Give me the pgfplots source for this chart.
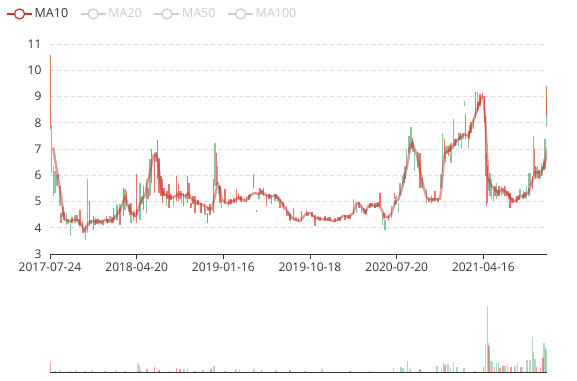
\documentclass[border=0pt]{standalone}
\usepackage{pgfplots}
\pgfplotsset{compat=1.18}
\usepackage{pgfplotstable}
\usepackage{fontspec}
\setmainfont{Open Sans}
\definecolor{mared}{HTML}{C23531}
\definecolor{candred}{HTML}{E0493D}
\definecolor{candgreen}{HTML}{3F9A62}
\definecolor{txt}{HTML}{333333}
\definecolor{gridc}{HTML}{DDDDDD}
\definecolor{legoff}{HTML}{CCCCCC}

\pgfplotstableread{
x lo hi
0.8 7.75 10.58
8.3 5.84 6.03
11 4.19 4.57
14 4.30 4.60
22 4.20 4.40
27 4.25 4.50
30 4.06 4.69
32.3 3.80 4.25
39.3 4.06 5.01
43.3 3.93 4.44
45.7 4.12 4.38
47 4.15 4.35
50 4.19 4.31
56.7 4.25 4.44
58 4.20 4.35
62 4.20 4.40
63.3 4.19 4.76
67.7 4.31 4.82
70 4.12 4.76
73.3 4.44 5.52
76.7 4.82 5.40
80 4.50 4.90
84 4.40 4.60
86.7 4.19 6.03
93.3 4.69 5.59
98 5.10 5.50
101.7 5.71 6.99
104.3 5.33 6.86
107.3 5.84 7.33
109 5.33 6.67
111 5.20 5.97
112.3 4.95 5.84
114 5.20 5.50
117 5.10 5.40
119 4.76 5.65
121 5.05 5.30
126.7 5.01 5.97
128.3 5.01 5.71
130 5.10 5.40
133.3 4.82 5.33
137.3 4.95 5.97
139 5.08 5.71
141 4.76 4.95
143 4.90 5.20
145 4.57 5.20
148 4.85 5.05
151 4.57 4.95
154.3 4.63 4.89
157.3 4.19 4.57
160 4.50 4.89
163.3 4.57 5.84
166.3 5.59 6.86
170 4.95 5.59
175 4.95 5.46
178.3 4.82 5.08
181 4.90 5.10
184 4.95 5.15
186.7 4.95 5.46
188.3 5.08 5.33
191 5.00 5.20
194.3 5.01 5.14
199 5.05 5.25
203.3 5.52 6.03
206.7 4.60 4.66
210 5.30 5.50
213.3 5.20 5.52
216.7 4.82 5.27
219 5.10 5.30
221.7 4.89 5.20
226 5.10 5.30
230 4.76 5.08
233 4.80 5.00
236.7 4.44 4.82
240 4.30 4.50
243.3 4.31 4.76
248.3 4.21 4.38
251.7 4.25 4.63
256.7 4.44 4.69
262 4.40 4.60
265 4.06 4.50
270 4.25 4.40
275 4.25 4.44
280 4.25 4.40
285 4.21 4.38
290 4.25 4.40
295 4.31 4.50
300 4.35 4.50
309 4.75 5.00
316 4.50 4.70
320 4.76 4.95
325 4.76 4.95
328 4.80 5.00
330 4.82 5.33
334 4.35 4.55
338.3 4.25 4.50
344.3 5.08 5.33
362.3 6.99 7.43
370 5.52 6.86
379 5.00 5.15
381.7 4.95 5.20
385 5.01 5.40
388 5.00 5.15
394.3 6.61 7.37
398.3 6.73 7.11
400 6.90 7.15
405 7.11 7.37
410 7.35 7.60
415.7 7.37 8.32
419 7.40 7.70
421 7.62 8.01
423.3 7.75 8.13
425.7 8.20 9.18
428 8.50 8.80
430 8.64 9.09
432.3 8.96 9.15
434.3 8.01 9.03
435.7 5.97 8.26
436.7 4.82 6.86
437.7 4.95 6.35
445 5.20 5.59
448 5.20 5.45
449 5.20 5.59
454.3 5.20 5.59
457 5.20 5.40
458.3 5.08 5.40
460 4.76 5.33
462 4.95 5.15
466.7 4.95 5.20
469 5.05 5.25
473.3 5.14 5.40
475 5.15 5.35
482.3 5.46 5.97
484.3 6.10 6.99
485.7 5.84 6.35
489 5.90 6.20
494 6.20 6.50
496.3 8.26 9.41
}\redcandles

\pgfplotstableread{
x lo hi
1.7 6.10 7.90
3.3 5.20 6.35
5 5.33 6.16
7 5.60 6.00
10 4.82 5.59
13 4.40 4.80
16.7 4.12 4.57
18 4.15 4.35
20.7 3.67 4.31
25 4.19 4.50
29 4.10 4.35
34 3.80 4.00
35.7 3.55 4.12
37.7 3.80 5.84
41 4.15 4.30
45 4.10 4.30
48.3 4.12 4.38
52 4.10 4.30
53.3 4.06 4.31
57 4.20 4.35
60 4.25 4.44
64 4.30 4.50
66.7 4.25 4.89
70 4.60 4.90
75 4.69 5.46
79 4.60 4.85
81 4.19 4.95
83.3 4.25 4.69
87 4.50 4.70
90 4.31 5.71
92 4.90 5.20
96.7 4.57 5.84
100 5.20 6.61
106 6.50 6.90
113 5.20 5.40
116.7 4.82 5.33
120 5.05 5.25
123.3 4.82 5.20
127 5.15 5.35
131.7 4.95 5.40
136 5.10 5.30
147 4.85 5.00
151.7 4.57 4.82
155 4.50 4.76
158 4.65 4.80
165 5.59 7.24
167.7 5.65 6.35
169 5.30 5.60
171.7 4.76 5.08
180 4.90 5.05
190 5.05 5.20
196.7 4.95 5.20
200 5.15 5.30
209 5.08 5.33
212 5.25 5.45
220 5.10 5.30
225 5.01 5.27
228 5.00 5.20
233.3 4.69 4.95
238 4.45 4.65
240 4.25 4.57
246 4.25 4.40
258 4.45 4.60
268 4.30 4.45
278 4.25 4.40
288 4.25 4.40
298 4.35 4.50
303.3 4.50 5.08
306.7 4.57 4.95
311.7 4.57 4.82
314 4.55 4.75
322 4.80 4.95
327 4.80 4.95
332.3 4.12 4.57
335 3.93 4.31
341.7 4.38 4.82
345 4.85 5.05
346 4.89 5.20
348.3 4.57 4.95
350 5.20 5.71
352.3 5.59 5.97
354 5.70 6.10
355 5.84 6.35
356.7 6.22 6.99
359 6.86 7.50
361 6.99 7.82
363 6.90 7.30
364.3 6.16 6.99
368 6.30 6.90
372 5.50 5.90
376.7 4.95 5.46
383 5.00 5.15
391 5.52 6.03
392.3 6.10 7.62
395.7 6.48 7.11
397 6.80 7.10
401 6.48 7.24
403.3 6.99 8.13
406 7.15 7.40
408.3 7.11 7.62
411.7 6.99 7.50
413 7.40 7.60
414.3 8.64 8.83
418.3 6.99 7.62
420 7.60 7.90
427.7 8.39 9.18
430 8.70 9.00
439 5.40 5.90
440 5.20 6.10
441.7 5.08 5.84
443.3 5.01 5.46
446.7 5.08 5.71
451.7 5.20 5.59
453 5.30 5.50
455.7 5.20 5.59
460 5.10 5.30
463.3 4.95 5.14
467 5.00 5.20
470 5.20 5.46
473 5.10 5.30
476.7 5.08 5.59
478.3 5.33 6.10
479 5.20 5.50
480 5.59 6.10
483.7 5.97 7.50
486 5.90 6.30
487.7 5.84 6.35
490 5.84 6.10
491.7 5.97 6.48
492 6.00 6.30
493.3 6.22 6.61
495 6.22 7.37
497 7.82 8.90
}\greencandles

\pgfplotstableread{
x ma
3.3 7.05
5 6.61
8.3 5.84
11.7 5.08
13.3 4.57
15 4.31
18.3 4.25
25 4.31
28.3 4.25
31.7 4.12
35 3.87
38.3 4.18
41.7 4.25
48.3 4.25
51.7 4.18
55 4.31
58.3 4.25
61.7 4.25
65 4.38
68.3 4.57
71.7 4.82
75 5.20
78.3 4.82
81.7 4.57
85 4.44
88.3 4.69
91.7 5.08
95 5.20
96.7 5.59
100 6.10
103.3 6.73
105.7 6.80
108.3 6.48
110 5.84
112.3 5.33
115 5.27
118.3 5.20
121.7 5.14
125 5.20
128.3 5.27
131.7 5.27
135 5.20
138.3 5.33
141.7 5.08
145 5.01
148.3 4.95
151.7 4.89
155 4.82
158.3 4.76
161.7 4.69
163.3 4.95
165.7 5.33
167.7 5.71
170 5.52
171.7 5.08
175 4.95
178.3 4.92
181.7 5.01
185 5.04
188.3 5.14
191.7 5.10
195 5.01
198.3 5.14
201.7 5.27
205 5.33
208.3 5.27
211.7 5.39
215 5.27
218.3 5.20
221.7 5.20
225 5.23
228.3 5.14
231.7 4.95
235 4.76
238.3 4.57
241.7 4.38
245 4.31
250 4.25
255 4.50
260 4.57
265 4.38
271.7 4.34
278.3 4.31
283.3 4.25
288.3 4.31
293.3 4.46
298.3 4.41
303.3 4.57
306.7 4.95
310 4.89
315 4.57
318.3 4.82
321.7 4.89
325 4.82
328.3 4.89
331.7 4.69
335 4.44
338.3 4.38
341.7 4.57
345 4.95
348.3 5.08
351.7 5.46
355 5.97
358.3 6.61
360 7.05
361.7 7.24
363.3 7.11
366.7 6.80
370 6.16
373.3 5.59
376.7 5.14
380 5.08
385 5.08
390 5.10
391.7 5.59
393.3 6.35
395 6.86
398.3 6.92
401.7 7.05
405 7.24
408.3 7.37
411.7 7.50
415 7.56
418.3 7.50
421.7 7.88
425 8.26
428.3 8.64
431.7 9.00
433.3 8.96
435 8.26
436.7 7.11
438.3 5.84
441.7 5.59
445 5.46
448.3 5.33
451.7 5.46
455 5.39
458.3 5.27
461.7 5.08
465 5.01
468.3 5.14
471.7 5.20
475 5.23
478.3 5.33
481.7 5.71
485 6.10
488.3 6.10
491.7 6.16
495 6.48
497.7 7.05
}\maten

\pgfplotstableread{
x v
0.7 9
10 1.5
26 1.2
42 1.5
66 1.2
90.6 2.3
97 3.3
104.5 5
109 2.3
126.5 4.7
130 3.3
161 3.3
211.6 2.3
240 2.3
300 1.2
370 3.3
395 7.3
433.6 5.7
439 26.3
444.5 5
450 4
453 6.3
461 5
470.3 5
486.7 5
490.4 4
493 14
495.2 24
}\redvol

\pgfplotstableread{
x v
5 1.2
20 1.5
35 1.2
55 1.5
75 1.2
87.7 9
88.8 7
120 1.5
134 3
137.5 4
145 1.5
153 2.3
164 6.3
175 1.5
186 3
189.6 3
204 3
226 2.3
255 1.2
272 3.3
320 1.2
343.7 4
351 5
352.9 4
357.3 11.3
360 3
387 6.3
391.4 3
393.2 9.3
398 8.3
400.5 4.3
403.5 10
407 5
414 4.3
425 1.5
435.4 28.3
437.2 66.3
438.3 29
441 11.3
442.7 10
446.4 9.3
448.2 10
454.8 6.3
457.4 7.3
464.8 6.3
467.7 9
472 5.7
476.8 12.3
479.4 12.3
480.5 12.3
482.4 35.7
483 20.3
485 13
494 29
496.3 22
}\greenvol

\begin{document}
\begin{tikzpicture}
\path[use as bounding box] (0pt,0pt) rectangle (577pt,-380pt);

\begin{axis}[
  at={(50pt,-254pt)}, anchor=south west,
  width=497pt, height=210pt, scale only axis,
  xmin=0, xmax=497, ymin=3, ymax=11,
  axis lines*=left,
  x axis line style={draw=txt, line width=1pt},
  y axis line style={draw=none},
  ytick={3,...,11},
  ytick style={draw=none},
  xtick={0,86.7,173.3,260,346.7,433.3},
  xticklabels={2017-07-24,2018-04-20,2019-01-16,2019-10-18,2020-07-20,2021-04-16},
  xtick style={draw=txt, line width=1pt},
  tick align=outside, major tick length=5pt,
  ymajorgrids,
  grid style={draw=gridc, line width=0.8pt, dash pattern=on 4pt off 3pt},
  tick label style={font=\fontsize{12}{14}\selectfont, text=txt},
  /pgf/number format/assume math mode=true,
  clip=true,
  legend style={at={(axis description cs:-0.088,1.143)}, anchor=west,
    draw=none, fill=none, inner sep=0pt,
    nodes={font=\fontsize{12.5}{15}\selectfont},
    /tikz/every even column/.append style={column sep=10pt}},
  legend columns=-1,
]
\addlegendimage{color=mared, legend image code/.code={\draw[line width=1.2pt] (0pt,0pt) -- (25pt,0pt); \draw[line width=1.2pt, fill=white] (12.5pt,0pt) circle (5pt);}}
\addlegendentry{\textcolor{txt}{MA10}}
\addlegendimage{color=legoff, legend image code/.code={\draw[line width=1.2pt] (0pt,0pt) -- (25pt,0pt); \draw[line width=1.2pt, fill=white] (12.5pt,0pt) circle (5pt);}}
\addlegendentry{\textcolor{legoff}{MA20}}
\addlegendimage{color=legoff, legend image code/.code={\draw[line width=1.2pt] (0pt,0pt) -- (25pt,0pt); \draw[line width=1.2pt, fill=white] (12.5pt,0pt) circle (5pt);}}
\addlegendentry{\textcolor{legoff}{MA50}}
\addlegendimage{color=legoff, legend image code/.code={\draw[line width=1.2pt] (0pt,0pt) -- (25pt,0pt); \draw[line width=1.2pt, fill=white] (12.5pt,0pt) circle (5pt);}}
\addlegendentry{\textcolor{legoff}{MA100}}

\addplot[candgreen, draw=none, mark=none, forget plot,
  error bars/.cd, y dir=plus, y explicit, error mark=none,
  error bar style={line width=1.3pt, draw=candgreen, opacity=0.6}]
  table[x=x, y=lo, y error plus expr=\thisrow{hi}-\thisrow{lo}] {\greencandles};
\addplot[candred, draw=none, mark=none, forget plot,
  error bars/.cd, y dir=plus, y explicit, error mark=none,
  error bar style={line width=1.3pt, draw=candred, opacity=0.75}]
  table[x=x, y=lo, y error plus expr=\thisrow{hi}-\thisrow{lo}] {\redcandles};
\addplot[forget plot, mared, opacity=0.5, line width=2.4pt, line join=round, mark=none] table[x=x, y=ma] {\maten};
\end{axis}

\begin{axis}[
  at={(50pt,-372.3pt)}, anchor=south west,
  width=497pt, height=70pt, scale only axis,
  xmin=0, xmax=497, ymin=0, ymax=70,
  axis lines*=left,
  x axis line style={draw=txt, line width=1pt},
  y axis line style={draw=none},
  xtick=\empty, ytick=\empty,
]
\addplot[ycomb, mark=none, candgreen, opacity=0.4, line width=1.4pt] table[x=x, y=v] {\greenvol};
\addplot[ycomb, mark=none, candred, opacity=0.55, line width=1.4pt] table[x=x, y=v] {\redvol};
\end{axis}
\end{tikzpicture}
\end{document}
